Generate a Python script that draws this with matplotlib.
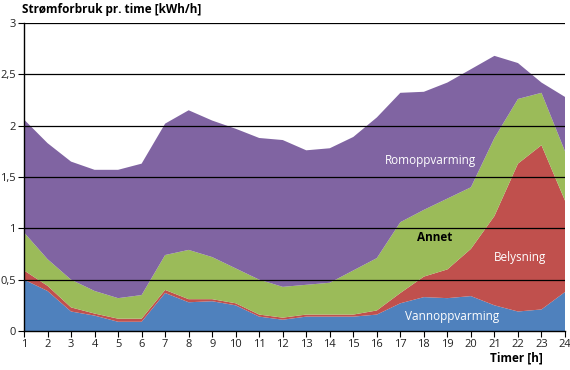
import matplotlib
matplotlib.use("Agg")
import matplotlib.pyplot as plt
from matplotlib import font_manager
import numpy as np

hours = list(range(1, 25))
# individual series (stacked)
vann = [0.50, 0.39, 0.19, 0.15, 0.09, 0.09, 0.37, 0.28, 0.29, 0.25, 0.14, 0.11,
        0.14, 0.14, 0.14, 0.16, 0.27, 0.33, 0.32, 0.34, 0.25, 0.19, 0.21, 0.38]
belysning = [0.09, 0.05, 0.04, 0.02, 0.03, 0.03, 0.03, 0.03, 0.02, 0.02, 0.02, 0.02,
             0.02, 0.02, 0.02, 0.04, 0.10, 0.20, 0.28, 0.46, 0.87, 1.44, 1.60, 0.89]
annet = [0.37, 0.26, 0.27, 0.22, 0.20, 0.23, 0.34, 0.48, 0.41, 0.34, 0.34, 0.30,
         0.29, 0.31, 0.43, 0.51, 0.69, 0.65, 0.69, 0.60, 0.76, 0.63, 0.51, 0.48]
rom = [1.10, 1.13, 1.15, 1.18, 1.25, 1.28, 1.28, 1.36, 1.33, 1.36, 1.38, 1.43,
       1.31, 1.31, 1.30, 1.37, 1.26, 1.15, 1.13, 1.15, 0.80, 0.35, 0.10, 0.53]
series_names = ["Vannoppvarming", "Belysning", "Annet", "Romoppvarming"]
colors = ["#4F81BD", "#C0504D", "#9BBB59", "#8064A2"]
yticks = [0, 0.5, 1, 1.5, 2, 2.5, 3]
ytick_labels = ["0", "0,5", "1", "1,5", "2", "2,5", "3"]

fam = "DejaVu Sans"
for cand in ["Liberation Sans Narrow", "Open Sans", "Roboto"]:
    try:
        font_manager.findfont(font_manager.FontProperties(family=cand), fallback_to_default=False)
        fam = cand
        break
    except Exception:
        pass
plt.rcParams["font.family"] = [fam, "DejaVu Sans"]

fig = plt.figure(figsize=(5.7, 3.7), dpi=100)
ax = fig.add_axes([24/570, 39/370, 541/570, 308/370])
ax.stackplot(hours, vann, belysning, annet, rom, colors=colors, linewidth=0, zorder=1)
ax.set_xlim(1, 24)
ax.set_ylim(0, 3)
ax.set_xticks(hours)
ax.set_xticklabels([str(h) for h in hours], fontsize=8, color="#222222")
ax.set_yticks(yticks)
ax.set_yticklabels(ytick_labels, fontsize=8, color="#222222")
for y in yticks[1:]:
    ax.axhline(y, color="black", linewidth=0.9, zorder=3)
for s in ["top", "right"]:
    ax.spines[s].set_visible(False)
ax.spines["left"].set_linewidth(1.0)
ax.spines["bottom"].set_linewidth(1.0)
ax.tick_params(axis="both", length=4, width=0.8, pad=2)

fig.text(22/570, 1 - 10/370, "Strømforbruk pr. time [kWh/h]", fontsize=8.5, fontweight="bold",
         va="center", ha="left")
fig.text(543/570, 1 - 358/370, "Timer [h]", fontsize=8.5, fontweight="bold",
         va="center", ha="right")

ax.text(18.3, 1.665, "Romoppvarming", color="white", fontsize=8.5, ha="center", va="center", zorder=4)
ax.text(18.47, 0.915, "Annet", color="black", fontsize=8.5, fontweight="bold", ha="center", va="center", zorder=4)
ax.text(22.09, 0.714, "Belysning", color="white", fontsize=8.5, ha="center", va="center", zorder=4)
ax.text(19.2, 0.14, "Vannoppvarming", color="white", fontsize=8.5, ha="center", va="center", zorder=4)

fig.savefig("out.png", dpi=100)
